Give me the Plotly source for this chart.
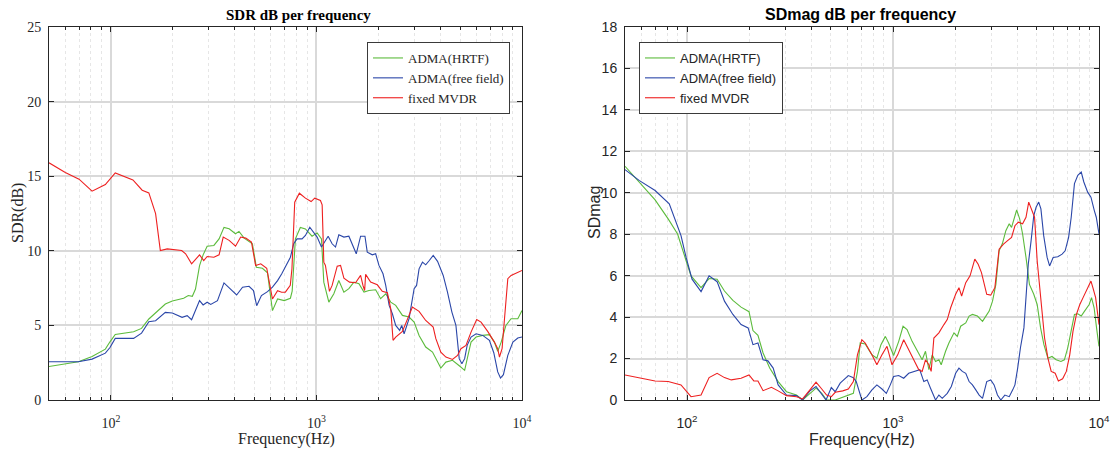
import math
import plotly.graph_objects as go

# ---------------- data: SDR (left) ----------------
sdr_hrtf_f = [50, 59, 69.5, 81, 94, 99, 105, 129, 141, 153, 165, 184, 199, 226, 238, 249, 258, 270, 281, 294,
              317, 336, 355, 376, 404, 420, 445, 488, 510, 546, 578, 611, 647, 697, 747, 762, 790, 835, 884, 952,
              1008, 1058, 1086, 1149, 1215, 1285, 1360, 1438, 1521, 1610, 1703, 1801, 1941, 2052, 2173, 2298,
              2430, 2620, 2822, 2987, 3157, 3401, 3670, 3883, 4028, 4263, 4590, 4970, 5260, 5460, 5650, 5980,
              6440, 6940, 7340, 7620, 7920, 8350, 8850, 9540, 10000]
sdr_hrtf_v = [2.24, 2.4, 2.56, 2.91, 3.41, 3.9, 4.39, 4.57, 4.8, 5.43, 5.83, 6.43, 6.64, 6.82, 7.0, 6.95, 7.44,
              9.01, 9.73, 10.31, 10.36, 10.8, 11.57, 11.48, 11.14, 11.3, 10.85, 10.47, 8.9, 8.83, 8.52, 5.99,
              6.77, 6.66, 6.82, 7.3, 10.8, 11.56, 11.47, 10.98, 11.2, 10.8, 7.9, 6.56, 7.12, 8.01, 7.23, 7.46,
              7.9, 7.79, 7.23, 7.34, 7.39, 6.79, 7.12, 6.56, 6.34, 5.67, 5.56, 5.22, 4.33, 3.55, 3.21, 2.54,
              2.14, 2.54, 2.66, 2.28, 1.99, 2.99, 3.88, 4.22, 4.33, 4.38, 3.88, 3.26, 3.88, 5.0, 5.45, 5.45, 6.0]

sdr_free_f = [50, 69.5, 81, 94, 99, 105, 129, 141, 153, 165, 184, 199, 222, 235, 247, 258, 270, 281, 294, 306,
              330, 355, 383, 409, 437, 470, 494, 512, 540, 578, 611, 647, 677, 711, 747, 775, 805, 851, 884, 928,
              970, 1008, 1058, 1106, 1140, 1192, 1238, 1285, 1360, 1438, 1493, 1562, 1640, 1722, 1767, 1870,
              1941, 2014, 2108, 2173, 2258, 2341, 2430, 2541, 2600, 2670, 2822, 2987, 3070, 3157, 3280, 3401,
              3540, 3698, 3883, 4137, 4340, 4560, 4770, 4950, 5100, 5260, 5410, 5650, 5980, 6440, 6940, 7290,
              7620, 7860, 8120, 8530, 9030, 9540, 10000]
sdr_free_v = [2.56, 2.56, 2.74, 3.14, 3.52, 4.13, 4.13, 4.48, 5.25, 5.31, 5.87, 5.83, 5.54, 5.65, 5.38, 5.99,
              6.66, 6.37, 6.55, 6.41, 6.66, 7.85, 7.44, 7.04, 7.56, 7.62, 7.33, 6.32, 7.0, 7.26, 7.56, 8.0, 8.45,
              9.01, 9.57, 10.47, 10.8, 10.8, 11.03, 11.58, 11.25, 10.92, 10.25, 10.69, 10.98, 10.47, 10.25,
              11.07, 10.92, 10.98, 10.47, 9.8, 10.98, 10.98, 9.91, 9.73, 9.8, 9.02, 8.46, 7.68, 6.34, 5.78, 5.0,
              4.67, 5.0, 4.44, 5.45, 7.46, 7.68, 8.79, 9.24, 9.06, 9.35, 9.69, 9.29, 8.35, 7.23, 5.89, 5.0, 2.77,
              2.43, 2.77, 3.66, 4.22, 4.44, 4.33, 4.0, 3.17, 1.88, 1.47, 1.7, 2.99, 3.88, 4.15, 4.22]

sdr_mvdr_f = [50, 60, 70, 81, 94, 105, 128, 142, 153, 165, 174, 188, 221, 231, 247, 270, 283, 294, 317, 336,
              352, 376, 404, 428, 453, 483, 506, 536, 573, 611, 647, 677, 706, 746, 760, 784, 826, 884, 942, 981,
              1046, 1066, 1086, 1106, 1157, 1192, 1262, 1310, 1360, 1449, 1550, 1640, 1684, 1716, 1735, 1835,
              1977, 2091, 2214, 2298, 2359, 2430, 2620, 2822, 2930, 3157, 3401, 3698, 3810, 4028, 4263, 4590,
              4857, 5045, 5339, 5650, 6020, 6320, 6810, 7340, 7620, 7770, 8000, 8220, 8530, 8850, 9360, 10000]
sdr_mvdr_v = [15.9, 15.25, 14.8, 14.0, 14.44, 15.22, 14.75, 14.06, 13.88, 12.49, 10.02, 10.13, 10.02, 9.8, 9.13,
              9.73, 9.35, 9.62, 9.57, 9.73, 10.92, 10.7, 10.31, 10.92, 10.85, 10.58, 9.01, 9.13, 8.83, 6.77, 7.33,
              7.22, 7.23, 7.68, 8.79, 13.26, 13.86, 13.53, 13.3, 13.53, 13.37, 13.08, 9.24, 9.02, 7.28, 7.68,
              8.97, 9.02, 8.17, 7.9, 7.86, 8.35, 7.68, 7.34, 8.42, 7.9, 7.72, 7.28, 7.19, 6.12, 4.0, 4.22, 4.6,
              5.67, 6.23, 5.94, 5.33, 4.89, 4.11, 3.21, 2.88, 2.72, 2.99, 3.44, 3.66, 4.55, 5.4, 5.22, 4.6, 3.88,
              3.44, 2.88, 3.44, 5.45, 8.13, 8.35, 8.5, 8.68]

# ---------------- data: SDmag (right) ----------------
sdm_hrtf_f = [50, 58.5, 70, 81, 90, 99, 104.6, 117, 128, 140, 152, 167, 183, 200, 209, 221, 234, 252, 277, 304,
              340, 364, 395, 423, 451, 476, 524, 565, 607, 642, 672, 693, 733, 790, 835, 874, 918, 952, 1007,
              1066, 1119, 1170, 1238, 1310, 1385, 1438, 1493, 1550, 1609, 1670, 1714, 1800, 1868, 1977, 2052,
              2130, 2255, 2341, 2430, 2570, 2720, 2824, 2930, 3042, 3158, 3274, 3400, 3530, 3666, 3763, 3880,
              3984, 4120, 4257, 4422, 4595, 4823, 5010, 5205, 5403, 5650, 5912, 6194, 6535, 6790, 7050, 7320,
              7600, 7890, 8200, 8510, 8960, 9200, 9470, 9730, 10000]
sdm_hrtf_v = [11.28, 10.52, 9.66, 8.74, 8.01, 6.72, 5.99, 5.42, 5.86, 5.83, 5.26, 4.81, 4.48, 4.26, 3.35, 3.12,
              2.27, 1.54, 0.89, 0.4, 0.24, 0.0, 0.32, 0.57, 0.32, 0.0, 0.0, 0.11, 0.21, 0.32, 1.38, 2.75, 2.7,
              2.18, 2.02, 2.67, 3.07, 2.75, 2.15, 2.83, 3.56, 3.4, 2.83, 2.35, 1.94, 2.35, 1.46, 2.18, 1.86, 1.94,
              1.7, 2.35, 2.75, 3.24, 3.07, 3.56, 3.72, 4.05, 4.13, 4.05, 3.8, 4.05, 4.29, 4.77, 5.58, 7.2, 7.56,
              8.17, 8.5, 8.33, 8.82, 9.17, 8.74, 8.01, 6.88, 5.58, 5.1, 4.61, 3.48, 2.67, 2.02, 2.1, 1.94, 1.86,
              1.94, 2.51, 3.32, 4.13, 4.16, 4.05, 4.29, 4.61, 4.94, 4.45, 3.48, 2.59]

sdm_free_f = [50, 58.5, 70, 82, 93.5, 99, 105.8, 117, 128, 140, 152, 167, 183, 198, 209, 221, 234, 247, 262, 277,
              304, 340, 364, 395, 423, 451, 473, 502, 524, 554, 607, 642, 663, 706, 747, 790, 835, 884, 928, 970,
              1007, 1066, 1127, 1192, 1262, 1349, 1411, 1465, 1521, 1609, 1670, 1734, 1834, 1919, 2014, 2090,
              2170, 2255, 2341, 2430, 2523, 2620, 2720, 2851, 2982, 3096, 3214, 3337, 3490, 3666, 3812, 3908,
              4029, 4154, 4320, 4440, 4536, 4682, 4823, 4950, 5097, 5224, 5389, 5600, 5757, 5990, 6308, 6620,
              6850, 7120, 7330, 7600, 7890, 8200, 8440, 8810, 9140, 9490, 9700, 10000]
sdm_free_v = [11.12, 10.6, 10.11, 9.47, 7.93, 6.88, 5.83, 5.23, 5.99, 5.71, 4.77, 4.13, 3.64, 3.48, 2.67, 2.75,
              1.94, 1.89, 1.54, 0.73, 0.24, 0.21, 0.0, 0.44, 0.65, 0.24, 0.0, 0.6, 0.4, 0.81, 1.18, 1.08, 0.89,
              0.0, 0.16, 0.49, 0.73, 0.53, 0.32, 0.73, 1.13, 1.18, 1.05, 1.29, 1.38, 1.46, 0.89, 0.97, 0.57, 0.0,
              0.24, 0.08, 0.32, 0.65, 1.29, 1.54, 1.38, 1.29, 0.89, 0.73, 0.49, 0.24, 0.08, 0.89, 0.97, 0.73,
              0.24, 0.0, 0.24, 0.16, 0.49, 0.73, 1.54, 2.51, 3.48, 5.1, 6.55, 7.69, 8.9, 9.3, 9.55, 9.22, 7.93,
              6.88, 6.47, 6.88, 6.91, 7.04, 7.2, 7.85, 8.82, 10.44, 10.84, 11.0, 10.52, 10.03, 9.79, 9.14, 8.82,
              8.01]

sdm_mvdr_f = [50, 60, 70, 81, 93.5, 104.6, 117, 128, 140, 152, 164, 183, 200, 211, 221, 234, 257, 277, 304, 340,
              364, 395, 423, 451, 476, 502, 524, 570, 607, 642, 672, 706, 733, 790, 835, 884, 935, 989, 1054,
              1127, 1179, 1252, 1334, 1385, 1438, 1493, 1532, 1579, 1670, 1767, 1834, 1905, 2014, 2090, 2154,
              2255, 2366, 2495, 2591, 2688, 2851, 2982, 3121, 3274, 3438, 3600, 3763, 3908, 4059, 4257, 4422,
              4558, 4718, 4866, 5010, 5244, 5443, 5650, 5860, 6126, 6350, 6660, 6940, 7210, 7480, 7770, 8070,
              8370, 8870, 9140, 9340, 9630, 10000]
sdm_mvdr_v = [1.21, 1.05, 0.92, 0.89, 0.73, 0.16, 0.24, 1.08, 1.29, 1.08, 0.97, 1.05, 1.21, 0.92, 0.92, 0.45,
              0.61, 0.44, 0.21, 0.16, 0.05, 0.49, 0.86, 0.53, 0.24, 0.16, 0.37, 0.44, 0.53, 0.89, 2.18, 2.91,
              2.75, 2.18, 1.7, 2.18, 2.59, 1.7, 2.18, 2.91, 2.51, 1.94, 1.46, 1.38, 1.94, 1.7, 1.38, 2.99, 3.24,
              3.64, 3.88, 4.45, 5.1, 5.42, 5.02, 5.66, 5.99, 6.8, 6.55, 6.15, 5.1, 5.06, 5.42, 7.28, 7.52, 7.69,
              7.85, 8.41, 8.58, 8.5, 8.82, 9.55, 9.14, 8.82, 6.72, 4.77, 2.99, 2.02, 1.38, 1.29, 0.92, 1.02, 1.38,
              2.18, 3.32, 4.13, 4.61, 4.94, 5.5, 5.74, 5.42, 4.94, 3.64]

names = ["ADMA(HRTF)", "ADMA(free field)", "fixed MVDR"]
colors = ["#5cbb3c", "#2a46a8", "#ee2020"]

minor_vals = [60, 70, 80, 90, 200, 300, 400, 500, 600, 700, 800, 900,
              2000, 3000, 4000, 5000, 6000, 7000, 8000, 9000]
major_vals = [100, 1000, 10000]
major_text = ["10<sup>2</sup>", "10<sup>3</sup>", "10<sup>4</sup>"]

SERIF = "Liberation Serif, Times New Roman, serif"
SANS = "Liberation Sans, Arial, sans-serif"
INK = "#262626"

fig = go.Figure()
left = [(sdr_hrtf_f, sdr_hrtf_v), (sdr_free_f, sdr_free_v), (sdr_mvdr_f, sdr_mvdr_v)]
right = [(sdm_hrtf_f, sdm_hrtf_v), (sdm_free_f, sdm_free_v), (sdm_mvdr_f, sdm_mvdr_v)]
for (fx, fy), n, c in zip(left, names, colors):
    fig.add_trace(go.Scatter(x=fx, y=fy, mode="lines", name=n, line=dict(color=c, width=1.1),
                             xaxis="x", yaxis="y", legend="legend"))
for (fx, fy), n, c in zip(right, names, colors):
    fig.add_trace(go.Scatter(x=fx, y=fy, mode="lines", name=n, line=dict(color=c, width=1.1),
                             xaxis="x2", yaxis="y2", legend="legend2"))

W, H = 1116, 453
ML, MR, MT, MB = 49, 17, 27, 53
PW, PH = W - ML - MR, H - MT - MB


def px(x):
    return (x - ML) / PW


def py(y):
    return (H - MB - y) / PH


def xaxis(dom, anchor, font):
    return dict(type="log", domain=dom, anchor=anchor, range=[math.log10(50), 4],
                tickvals=major_vals, ticktext=major_text, ticks="inside", ticklen=5,
                tickcolor=INK, showline=True, linecolor=INK, linewidth=1,
                mirror="ticks", showgrid=True, gridcolor="#d9d9d9", gridwidth=1.5,
                zeroline=False, automargin=False, ticklabelstandoff=10,
                tickfont=dict(family=font, size=14, color=INK),
                minor=dict(tickvals=minor_vals, ticks="inside", ticklen=3, tickcolor=INK,
                           showgrid=True, gridcolor="#e6e6e6", griddash="dot", gridwidth=1))


def yaxis(dom, anchor, rng, dt, font):
    return dict(domain=dom, anchor=anchor, range=rng, dtick=dt, ticks="inside", ticklen=5,
                tickcolor=INK, showline=True, linecolor=INK, linewidth=1,
                mirror="ticks", showgrid=True, gridcolor="#d9d9d9", gridwidth=1.5,
                zeroline=False, automargin=False, ticklabelstandoff=4,
                tickfont=dict(family=font, size=14, color=INK))


ydom = [py(400), py(27)]
fig.update_layout(
    width=W, height=H, margin=dict(l=ML, r=MR, t=MT, b=MB, autoexpand=False),
    paper_bgcolor="white", plot_bgcolor="white",
    xaxis=xaxis([px(49), px(522)], "y", SERIF),
    yaxis=yaxis(ydom, "x", [0, 25], 5, SERIF),
    xaxis2=xaxis([px(625), px(1099)], "y2", SANS),
    yaxis2=yaxis(ydom, "x2", [0, 18], 2, SANS),
    legend=dict(x=px(510), y=py(42), xanchor="right", yanchor="top", bgcolor="white",
                bordercolor="#3a3a3a", borderwidth=1, font=dict(family=SERIF, size=13, color=INK),
                tracegroupgap=0, itemwidth=30),
    legend2=dict(x=px(639), y=py(42), xanchor="left", yanchor="top", bgcolor="white",
                 bordercolor="#3a3a3a", borderwidth=1, font=dict(family=SANS, size=13, color=INK),
                 tracegroupgap=0, itemwidth=30),
    showlegend=True,
    annotations=[
        dict(text="<b>SDR dB per frequency</b>", x=px(298), y=py(15), xref="paper", yref="paper",
             xanchor="center", yanchor="middle", showarrow=False,
             font=dict(family=SERIF, size=15, color="black")),
        dict(text="<b>SDmag dB per frequency</b>", x=px(860), y=py(15), xref="paper", yref="paper",
             xanchor="center", yanchor="middle", showarrow=False,
             font=dict(family=SANS, size=16, color="black")),
        dict(text="Frequency(Hz)", x=px(286), y=py(439), xref="paper", yref="paper",
             xanchor="center", yanchor="middle", showarrow=False,
             font=dict(family=SERIF, size=16, color=INK)),
        dict(text="Frequency(Hz)", x=px(862), y=py(439), xref="paper", yref="paper",
             xanchor="center", yanchor="middle", showarrow=False,
             font=dict(family=SANS, size=16, color=INK)),
        dict(text="SDR(dB)", x=px(18), y=py(213), xref="paper", yref="paper", textangle=-90,
             xanchor="center", yanchor="middle", showarrow=False,
             font=dict(family=SERIF, size=16, color=INK)),
        dict(text="SDmag", x=px(594), y=py(213), xref="paper", yref="paper", textangle=-90,
             xanchor="center", yanchor="middle", showarrow=False,
             font=dict(family=SANS, size=16, color=INK)),
    ],
)

fig.write_html("out.html", config={"displayModeBar": False},
               post_script="document.body.style.margin='0';document.body.style.overflow='hidden';")
